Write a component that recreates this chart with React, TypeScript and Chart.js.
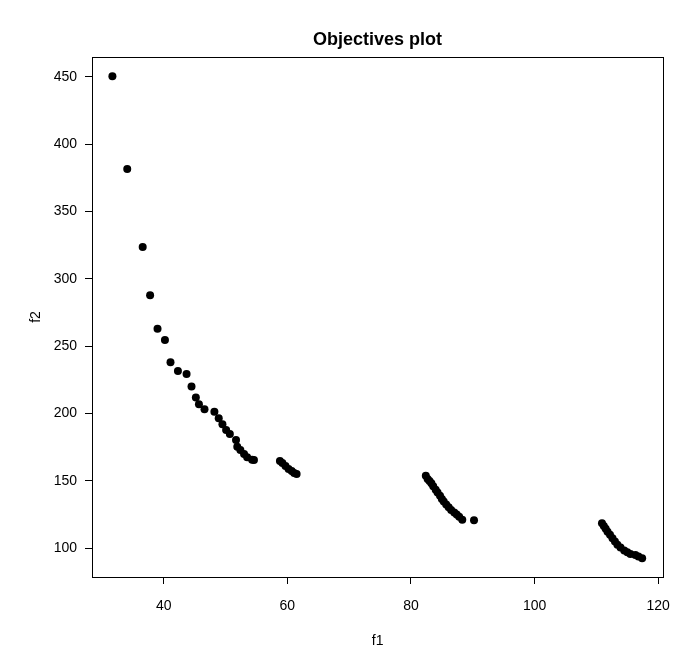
import { useEffect, useRef } from "react";
import { Chart, registerables } from "chart.js";

Chart.register(...registerables);

const chartTitle = "Objectives plot";
const xLabel = "f1";
const yLabel = "f2";

const f1 = [
  31.7, 34.1, 36.6, 37.8, 39.0, 40.2, 41.1, 42.3, 43.7, 44.5, 45.2, 45.7, 46.6,
  48.2, 48.9, 49.5, 50.1, 50.7, 51.7, 51.9, 52.4, 53.0, 53.5, 54.3, 54.6,
  58.8, 59.2, 59.7, 60.2, 60.7, 61.1, 61.5,
  82.4, 82.7, 83.0, 83.3, 83.6, 84.0, 84.3, 84.7, 85.0, 85.3, 85.7, 86.1, 86.5,
  87.0, 87.4, 87.8, 88.3, 90.2,
  110.9, 111.2, 111.5, 111.8, 112.2, 112.6, 113.0, 113.4, 113.9, 114.5, 115.0,
  115.5, 116.3, 116.8, 117.4,
];

const f2 = [
  450.3, 381.5, 323.6, 287.8, 263.0, 254.6, 238.0, 231.6, 229.3, 220.0, 212.0,
  206.9, 203.2, 201.4, 196.5, 192.0, 187.8, 184.8, 180.4, 175.4, 173.0, 170.0,
  167.5, 165.8, 165.6,
  164.8, 163.3, 161.1, 158.9, 157.4, 155.9, 155.2,
  153.9, 151.5, 150.0, 148.2, 146.0, 143.5, 141.5, 139.0, 136.5, 134.8, 132.5,
  130.5, 128.5, 126.5, 125.0, 123.5, 121.2, 120.8,
  118.5, 116.5, 114.5, 112.3, 110.0, 107.4, 105.0, 102.6, 100.5, 98.4, 97.0,
  95.8, 95.0, 94.0, 92.7,
];

const xTicks = [40, 60, 80, 100, 120];
const yTicks = [100, 150, 200, 250, 300, 350, 400, 450];

const FONT = "'Liberation Sans', Arial, Helvetica, sans-serif";

const boxPlugin = {
  id: "rbox",
  afterDraw(chart: any) {
    const { ctx, chartArea } = chart;
    ctx.save();
    ctx.strokeStyle = "#000";
    ctx.lineWidth = 1;
    ctx.strokeRect(
      Math.round(chartArea.left) + 0.5,
      Math.round(chartArea.top) + 0.5,
      Math.round(chartArea.right - chartArea.left),
      Math.round(chartArea.bottom - chartArea.top)
    );
    ctx.fillStyle = "#000";
    ctx.font = `bold 18px ${FONT}`;
    ctx.textAlign = "center";
    ctx.textBaseline = "middle";
    ctx.fillText(chartTitle, (chartArea.left + chartArea.right) / 2, 40);
    ctx.restore();
  },
};

export default function App() {
  const ref = useRef<HTMLCanvasElement>(null);
  useEffect(() => {
    const data = f1.map((x, i) => ({ x, y: f2[i] }));
    const chart = new Chart(ref.current!, {
      type: "scatter",
      data: {
        datasets: [
          {
            data,
            pointRadius: 4,
            pointHoverRadius: 4,
            pointBackgroundColor: "#000",
            pointBorderColor: "#000",
            pointBorderWidth: 0,
          },
        ],
      },
      options: {
        responsive: false,
        animation: false,
        devicePixelRatio: 1,
        events: [],
        layout: { padding: { top: 57, right: 11, left: 0, bottom: 0 } },
        plugins: {
          legend: { display: false },
          tooltip: { enabled: false },
          title: { display: false },
        },
        scales: {
          x: {
            type: "linear",
            min: 28.4,
            max: 120.8,
            afterBuildTicks: (s: any) => {
              s.ticks = xTicks.map((v) => ({ value: v }));
            },
            afterFit: (s: any) => {
              s.height = 80;
            },
            border: { display: false },
            grid: {
              display: true,
              drawOnChartArea: false,
              drawTicks: true,
              tickLength: 7,
              color: "#000",
            },
            ticks: {
              autoSkip: false,
              maxRotation: 0,
              padding: 14,
              color: "#000",
              font: { family: FONT, size: 14 },
            },
            title: {
              display: true,
              text: xLabel,
              color: "#000",
              font: { family: FONT, size: 14 },
              padding: { top: 0, bottom: 7 },
            },
          },
          y: {
            type: "linear",
            min: 78.7,
            max: 464.6,
            afterBuildTicks: (s: any) => {
              s.ticks = yTicks.map((v) => ({ value: v }));
            },
            afterFit: (s: any) => {
              s.width = 92;
            },
            border: { display: false },
            grid: {
              display: true,
              drawOnChartArea: false,
              drawTicks: true,
              tickLength: 7,
              color: "#000",
            },
            ticks: {
              autoSkip: false,
              padding: 8,
              color: "#000",
              font: { family: FONT, size: 14 },
            },
            title: {
              display: true,
              text: yLabel,
              color: "#000",
              font: { family: FONT, size: 14 },
              padding: { top: 28, bottom: 0 },
            },
          },
        },
      },
      plugins: [boxPlugin],
    });
    return () => chart.destroy();
  }, []);
  return (
    <div
      style={{
        position: "fixed",
        left: 0,
        top: 0,
        width: 684,
        height: 657,
        background: "#fff",
      }}
    >
      <canvas
        ref={ref}
        width={684}
        height={657}
        style={{ display: "block", width: 684, height: 657 }}
      />
    </div>
  );
}
